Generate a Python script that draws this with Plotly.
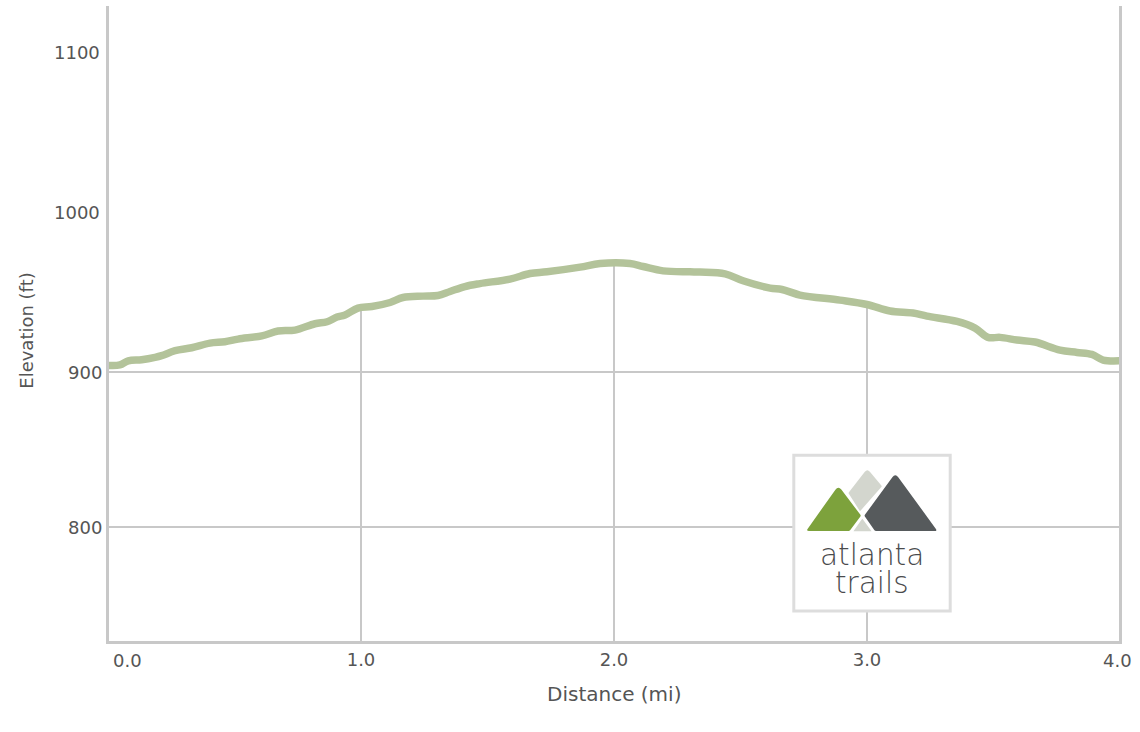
import plotly.graph_objects as go

W, H = 1140, 732
L, R, T, B = 109, 1119, 6, 641.5

distance_mi = [0.00, 0.047, 0.08, 0.133, 0.186, 0.212, 0.265, 0.331, 0.403, 0.462, 0.514, 0.608, 0.672, 0.739,
               0.818, 0.866, 0.905, 0.937, 0.988, 1.043, 1.115, 1.166, 1.245, 1.304, 1.352, 1.411, 1.470, 1.589,
               1.668, 1.735, 1.866, 1.945, 2.063, 2.115, 2.194, 2.300, 2.340, 2.439, 2.510, 2.617, 2.664, 2.735,
               2.893, 3.0, 3.091, 3.182, 3.237, 3.356, 3.427, 3.478, 3.526, 3.593, 3.664, 3.763, 3.830, 3.889,
               3.933, 4.0]
elevation_ft = [904.5, 904.8, 907.5, 908.2, 909.7, 910.8, 914.0, 915.9, 918.9, 919.8, 921.5, 923.6, 926.7, 927.3,
                931.4, 932.7, 935.7, 937.0, 941.5, 942.5, 945.1, 948.3, 949.2, 949.6, 952.2, 955.4, 957.3, 960.2,
                963.8, 964.9, 967.9, 970.2, 970.2, 968.3, 965.5, 964.9, 964.7, 963.6, 959.1, 954.4, 953.5, 949.9,
                946.6, 943.8, 939.6, 938.3, 936.3, 932.9, 928.6, 922.6, 922.6, 920.9, 919.6, 914.4, 912.9, 911.6,
                908.0, 907.5]
x_ticks = [1, 2, 3]
x_tick_text = ["1.0", "2.0", "3.0"]
y_ticks = [800, 900]
y_tick_text = ["800", "900"]
y_range = [726.8, 1136.3]
x_range = [0.004, 3.996]

LINE = "#c8c8c8"
TXT = "#555555"
FONT = "DejaVu Sans"
TS = 18


def px(x):
    return (x - L) / (R - L)


def py(y):
    return (B - y) / (B - T)


def note(text, x, y, anchor="center", size=TS, color=TXT, family=FONT, angle=0, weight=None):
    f = dict(family=family, size=size, color=color)
    if weight:
        f["weight"] = weight
    return dict(text=text, x=px(x), y=py(y), xref="paper", yref="paper", xanchor=anchor, yanchor="middle",
                showarrow=False, textangle=angle, font=f)


def rounded(points, radii):
    n = len(points)
    out = []
    for i in range(n):
        x0, y0 = points[i - 1]
        x1, y1 = points[i]
        x2, y2 = points[(i + 1) % n]
        r = radii[i]
        d0 = ((x0 - x1) ** 2 + (y0 - y1) ** 2) ** .5
        d2 = ((x2 - x1) ** 2 + (y2 - y1) ** 2) ** .5
        a = (x1 + (x0 - x1) * r / d0, y1 + (y0 - y1) * r / d0)
        b = (x1 + (x2 - x1) * r / d2, y1 + (y2 - y1) * r / d2)
        out.append(("M" if i == 0 else "L") + f"{px(a[0]):.5f},{py(a[1]):.5f}")
        out.append(f"Q{px(x1):.5f},{py(y1):.5f} {px(b[0]):.5f},{py(b[1]):.5f}")
    return " ".join(out) + " Z"


def logo_shape(points, radii, color):
    return dict(type="path", xref="paper", yref="paper", path=rounded(points, radii), fillcolor=color,
                line=dict(width=0), layer="above")


fig = go.Figure()
fig.add_trace(go.Scatter(x=[distance_mi[0], distance_mi[-1]], y=[y_range[1], y_range[1]], mode="lines",
                         line=dict(width=0, color="white"), hoverinfo="skip", showlegend=False))
fig.add_trace(go.Scatter(x=distance_mi, y=elevation_ft, mode="lines", fill="tonexty", fillcolor="white",
                         line=dict(color="#b3c39a", width=7.5, shape="spline", smoothing=1.0), showlegend=False))

shapes = [
    dict(type="rect", xref="paper", yref="paper", x0=px(793.8), x1=px(950.2), y0=py(455.5), y1=py(611.5),
         fillcolor="white", line=dict(color="#dddddd", width=3), layer="above"),
    logo_shape([(848.3, 493.3), (867.3, 469), (882, 486.7), (860, 511.7)], [1, 4, 1, 1], "#d3d6ce"),
    logo_shape([(862.3, 519), (871.7, 531.7), (853.3, 531.7)], [0.5, 0.5, 0.5], "#d3d6ce"),
    logo_shape([(838.3, 486), (861, 516), (849.5, 531.5), (806, 531.5)], [5, 1, 1, 3], "#7da23c"),
    logo_shape([(895.3, 473.5), (937.5, 531.5), (875, 531.5), (864.3, 516)], [5, 3, 1, 1], "#565a5c"),
]

annotations = [
    note("1100", 102, 53, "right"),
    note("1000", 102, 213, "right"),
    note("0.0", 127, 661),
    note("4.0", 1117, 661),
    note("Distance (mi)", 613.5, 695, size=20),
    note("Elevation (ft)", 27, 331, angle=-90),
    note("atlanta", 872, 555, size=29.5, color="#4a4b4d", family="DejaVu Sans", weight=200),
    note("trails", 872, 583, size=29.5, color="#4a4b4d", family="DejaVu Sans", weight=200),
]

fig.update_layout(
    width=W, height=H, paper_bgcolor="white", plot_bgcolor="white", showlegend=False,
    margin=dict(l=L, r=W - R, t=T, b=H - B, pad=0),
    shapes=shapes, annotations=annotations,
    xaxis=dict(range=x_range, tickmode="array", tickvals=x_ticks, ticktext=x_tick_text, showgrid=True,
               gridcolor=LINE, gridwidth=2, showline=True, linecolor=LINE, linewidth=3, zeroline=False,
               ticks="", tickfont=dict(family=FONT, size=TS, color=TXT)),
    yaxis=dict(range=y_range, tickmode="array", tickvals=y_ticks, ticktext=y_tick_text, showgrid=True,
               gridcolor=LINE, gridwidth=2, showline=True, mirror=True, linecolor=LINE, linewidth=3,
               zeroline=False, ticks="", tickfont=dict(family=FONT, size=TS, color=TXT)),
)
fig.write_html("out.html", config=dict(displayModeBar=False),
               post_script="document.body.style.margin='0';document.documentElement.style.overflow='hidden';")
